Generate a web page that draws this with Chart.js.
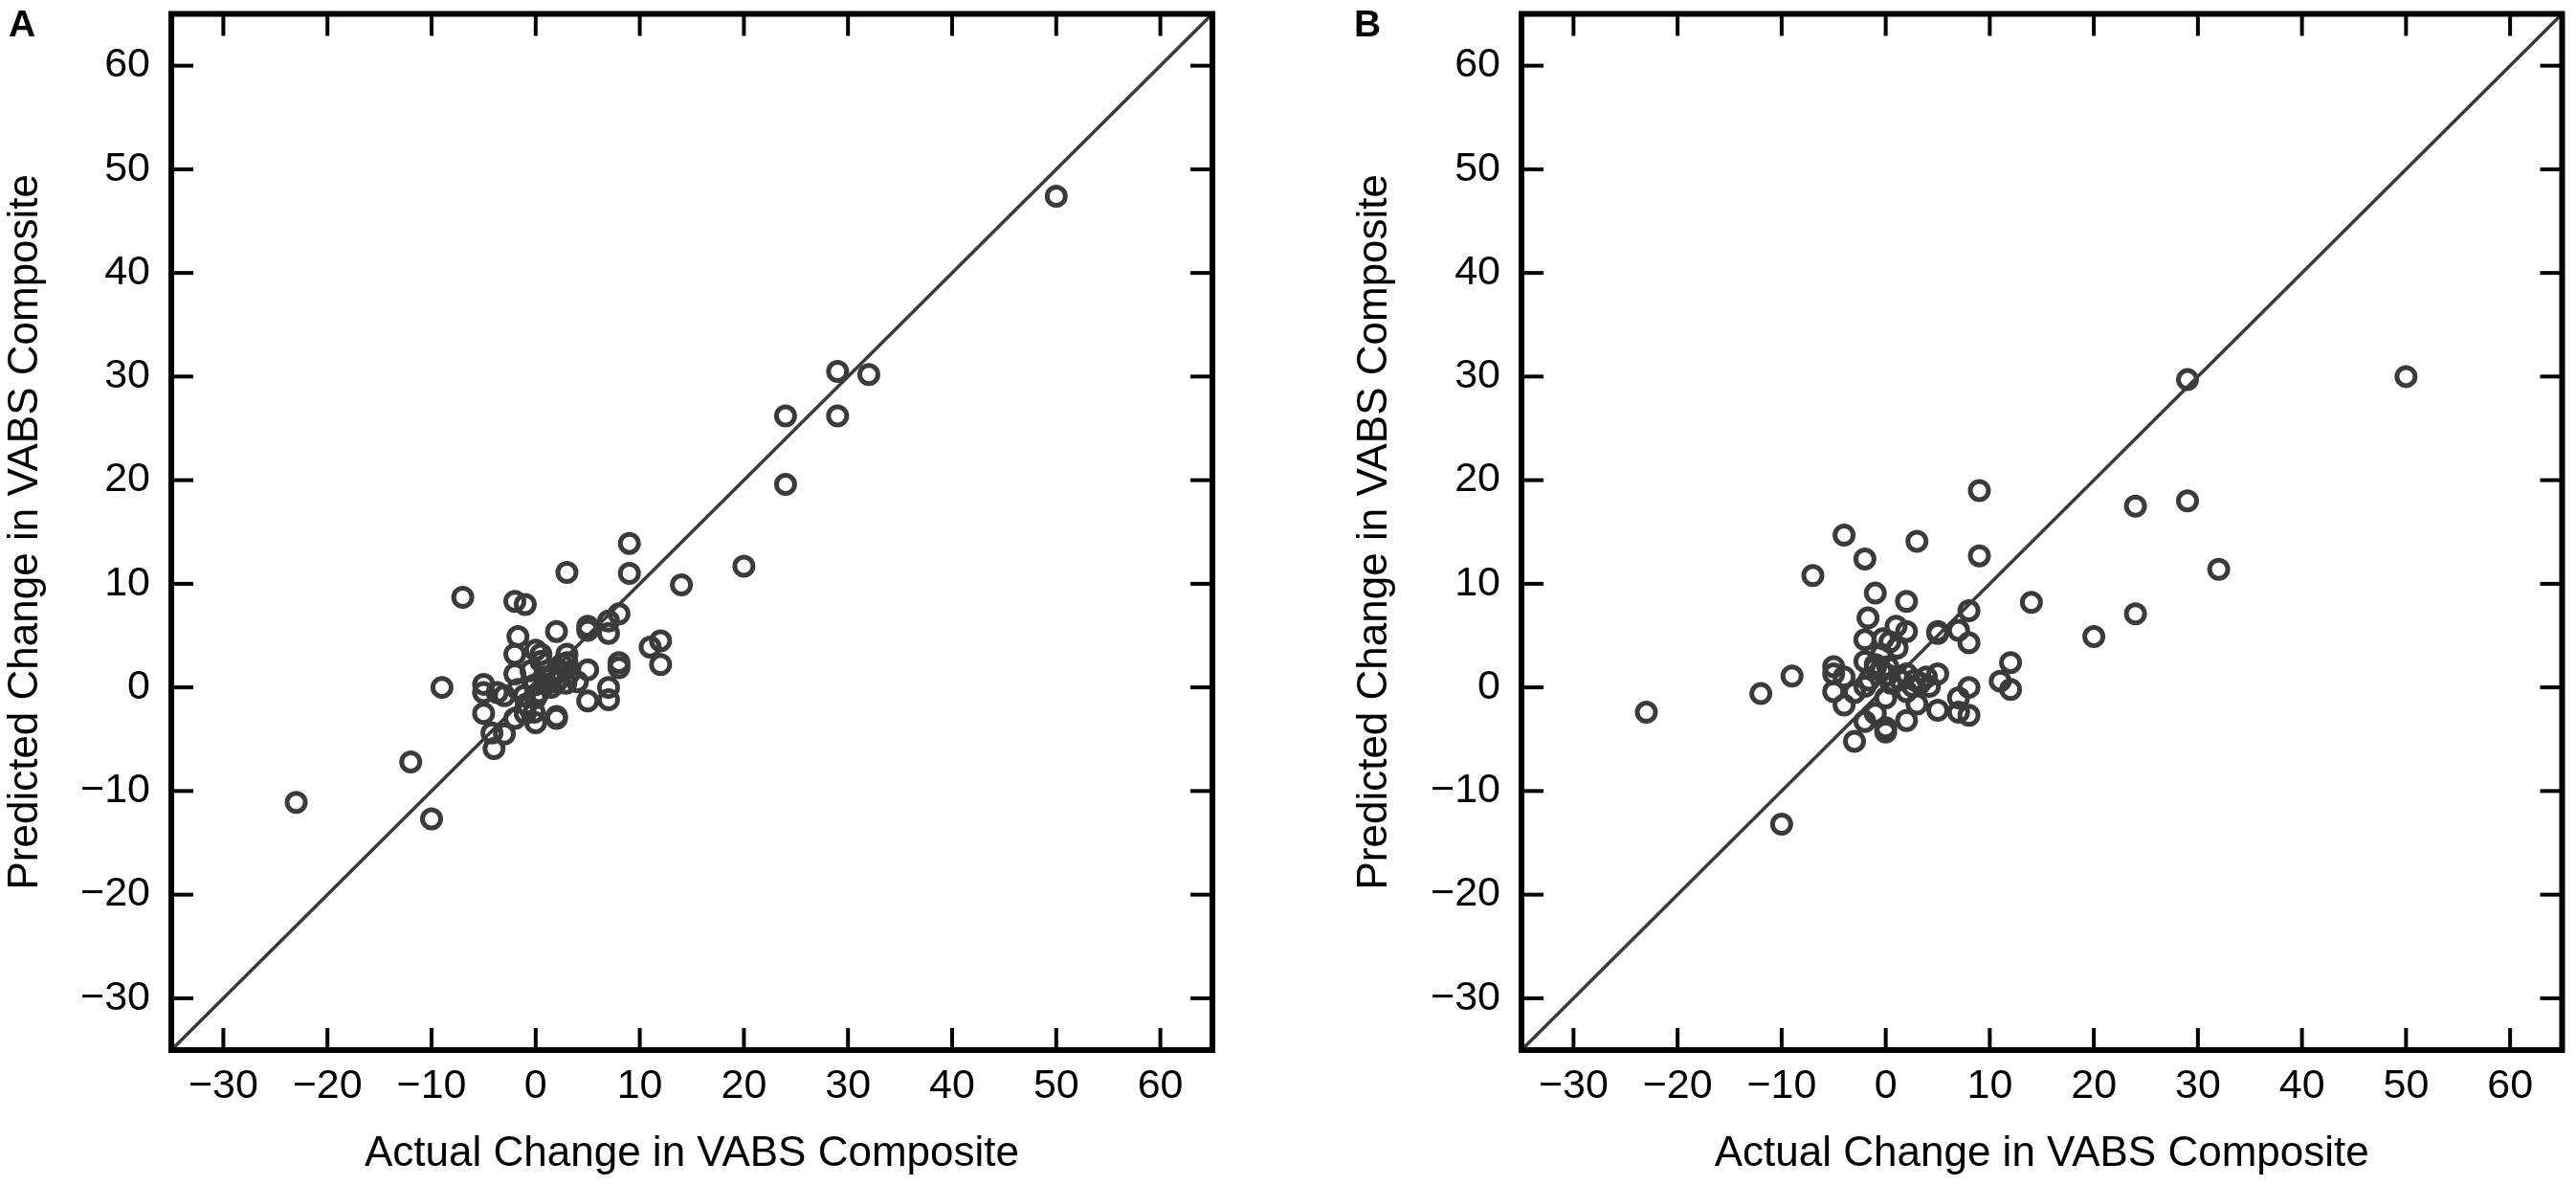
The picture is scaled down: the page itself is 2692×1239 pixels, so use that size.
<!DOCTYPE html>
<html>
<head>
<meta charset="utf-8">
<title>Actual vs Predicted Change in VABS Composite</title>
<script src="https://cdn.jsdelivr.net/npm/chart.js@4.4.1/dist/chart.umd.min.js"></script>
<style>
  html, body { margin: 0; padding: 0; background: #fff; }
  body { width: 2692px; height: 1239px; position: relative; overflow: hidden; font-family: "Liberation Sans", Arial, sans-serif; }
  .panel { position: absolute; top: 0; width: 1346px; height: 1239px; }
  .letter { position: absolute; top: 5px; font-size: 39px; line-height: 39px; font-weight: bold; color: #000; }
</style>
</head>
<body>
<div class="panel" style="left:0"><canvas id="chartA" width="1346" height="1239"></canvas></div>
<div class="panel" style="left:1346px"><canvas id="chartB" width="1346" height="1239"></canvas></div>
<div class="letter" style="left:9px">A</div>
<div class="letter" style="left:1415px">B</div>

<script>
// AXIS RANGE + TICKS (same on both axes, both panels)
const axisMin = -35;
const axisMax = 65;
const axisTicks = [-30, -20, -10, 0, 10, 20, 30, 40, 50, 60];
const identityLine = [-35, 65];

const xTitle = "Actual Change in VABS Composite";
const yTitle = "Predicted Change in VABS Composite";

// PANEL A - actual vs predicted
const actualA = [
  50, 29, 32, 24, 29, 24, 20, 14, 9, 9, 3, -7, -2, -1, 8, 7, 7, 5, 5, 2,
  -1.7, 11, 12, 12, 8, 8, 5, -9, -5, -5, -5, 7, 7, 5, 2, 2, 0, -4.2, -4, -3,
  -12, -10, -23,
  -2, 0, 0.5, 3, 3, 0.5, 2.5, 3.2, 0.8, 2, 2.9, -0.1, -0.45, 4, -2, -3.7, -3,
  -1.7, -1.1, -0.9, -0.15, -2, 1.5, 1, 0, 0.3, 1.5, 2.2, -1
];
const predictedA = [
  47.4, 30.5, 30.2, 26.2, 26.2, 19.6, 11.7, 9.9, 13.9, 11, 11.1, 8.7, 8.3, 8, 7.1, 6.4, 5.2, 5.9, 5.5, 5.4,
  4.9, 3.9, 4.5, 2.2, 2.4, 1.9, 1.7, 0, 0.3, -0.5, -2.5, 0, -1.2, -1.3, -2.8, -3, -3.4, -4.4, -5.9, -4.5,
  -7.2, -12.7, -11.1,
  3.2, 3.6, 3.2, 3.2, 2.4, 2.5, 2.2, 1.3, 1.0, 0.55, 0.4, 0.25, 1.6, 0.55, 1.3, -0.5, -0.8,
  -0.2, -0.8, -1.6, -2.4, -3, 1, 0.3, -1, -0.5, 0, 1.5, -2.5
];

// PANEL B - actual vs predicted
const actualB = [
  50, 29, 29, 24, 32, 24, 20, 14, -23, -10, 9, -4, 3, -2, 9, -7, -1, 2, 8, -1.7,
  1, 2, 5, 5, 7, 8, -2, -0.25, 0.4, 1.1, -2, -5, -5, -4, -9, -12, -5, -4, -3, -2,
  -1, -0.4, 0.2, 2, 2.8, 3.3, 3.9, 5, 0, 2, 3, 5, 7, 8, 7, 8, 12, 11, 12, -2,
  -1, 0, 0, 2, -3, -1, 0.2, 0.5, 1.4, 4.2, 2.6, -1.6, -0.4
];
const predictedB = [
  30, 29.7, 18, 17.5, 11.4, 7.1, 4.9, 8.2, -2.4, -13.2, 19, 14.7, 14.1, 12.4, 12.7, 10.8, 9.1, 8.3, 7.4, 6.7,
  5.9, 5.4, 5.4, 5.2, 5.5, 4.3, 4.6, 4.7, 4.4, 3.8, 2.5, 2, 1.3, 1, 1.1, -0.6, -0.4, -1.7, -0.5, 0.1,
  1.9, 1.6, 1.2, 1.3, 0.7, 0.4, 1, 1.3, -1, -0.4, -1.6, -2.2, -1, 0, -2.4, -2.7, 2.4, 0.6, -0.2, -3.3,
  -2.5, -3.9, -4.3, -3.2, -5.2, 2.2, 2, 0.4, 0.7, 0.1, 0.1, 0.7, 3.2
];

const FONT = '"Liberation Sans", Arial, sans-serif';
const MARK_COLOR = '#3b3b3b';
const TICK_LEN = 23;

function formatTick(value) {
  return value < 0 ? '\u2212' + Math.abs(value) : String(value);
}

function toPoints(xs, ys) {
  return xs.map((x, i) => ({ x: x, y: ys[i] }));
}

// BOX + INWARD TICKS ON ALL FOUR SIDES
const frameTicks = {
  id: 'frameTicks',
  afterDatasetsDraw(chart) {
    const { ctx, chartArea: a, scales } = chart;
    const line = (x1, y1, x2, y2) => {
      ctx.beginPath();
      ctx.moveTo(x1, y1);
      ctx.lineTo(x2, y2);
      ctx.stroke();
    };
    ctx.save();
    ctx.strokeStyle = '#000';
    ctx.lineWidth = 4;
    scales.x.ticks.forEach((t) => {
      const px = scales.x.getPixelForValue(t.value);
      line(px, a.bottom, px, a.bottom - TICK_LEN);
      line(px, a.top, px, a.top + TICK_LEN);
    });
    scales.y.ticks.forEach((t) => {
      const py = scales.y.getPixelForValue(t.value);
      line(a.left, py, a.left + TICK_LEN, py);
      line(a.right, py, a.right - TICK_LEN, py);
    });
    ctx.lineWidth = 6;
    ctx.strokeRect(a.left, a.top, a.right - a.left, a.bottom - a.top);
    ctx.restore();
  }
};

function noPadding(scale) {
  scale.paddingTop = 0;
  scale.paddingBottom = 0;
  scale.paddingLeft = 0;
  scale.paddingRight = 0;
}

function makeChart(canvasId, xs, ys, layoutPadding, yAxisWidth) {
  const canvas = document.getElementById(canvasId);
  return new Chart(canvas, {
    type: 'scatter',
    data: {
      datasets: [
        {
          label: 'Subjects',
          data: toPoints(xs, ys),
          pointStyle: 'circle',
          pointRadius: 9.5,
          pointHoverRadius: 9.5,
          borderWidth: 5,
          borderColor: MARK_COLOR,
          backgroundColor: 'rgba(0,0,0,0)',
        },
        {
          type: 'line',
          label: 'Identity',
          data: identityLine.map((v) => ({ x: v, y: v })),
          borderColor: '#3a3a3a',
          borderWidth: 3.5,
          pointRadius: 0,
          fill: false,
        },
      ],
    },
    options: {
      responsive: false,
      animation: false,
      devicePixelRatio: 1,
      layout: { padding: layoutPadding },
      plugins: {
        legend: { display: false },
        tooltip: { enabled: false },
      },
      scales: {
        x: {
          type: 'linear',
          position: 'bottom',
          min: axisMin,
          max: axisMax,
          afterBuildTicks: (s) => { s.ticks = axisTicks.map((v) => ({ value: v })); },
          afterFit: (s) => { s.height = 142; noPadding(s); },
          grid: { display: false, drawTicks: false },
          border: { display: false },
          ticks: {
            padding: 12,
            color: '#000',
            autoSkip: false,
            maxRotation: 0,
            font: { family: FONT, size: 43 },
            callback: formatTick,
          },
          title: {
            display: true,
            text: xTitle,
            color: '#000',
            font: { family: FONT, size: 44 },
            padding: { top: 0, bottom: 7 },
          },
        },
        y: {
          type: 'linear',
          position: 'left',
          min: axisMin,
          max: axisMax,
          afterBuildTicks: (s) => { s.ticks = axisTicks.map((v) => ({ value: v })); },
          afterFit: (s) => { s.width = yAxisWidth; noPadding(s); },
          grid: { display: false, drawTicks: false },
          border: { display: false },
          ticks: {
            padding: 22,
            color: '#000',
            autoSkip: false,
            font: { family: FONT, size: 43 },
            callback: formatTick,
          },
          title: {
            display: true,
            text: yTitle,
            color: '#000',
            font: { family: FONT, size: 44 },
            padding: { top: 0, bottom: 0 },
          },
        },
      },
    },
    plugins: [frameTicks],
  });
}

makeChart('chartA', actualA, predictedA, { top: 9, right: 79, bottom: 0, left: 0 }, 179);
makeChart('chartB', actualB, predictedB, { top: 9, right: 13, bottom: 0, left: 64 }, 180);
</script>
</body>
</html>
